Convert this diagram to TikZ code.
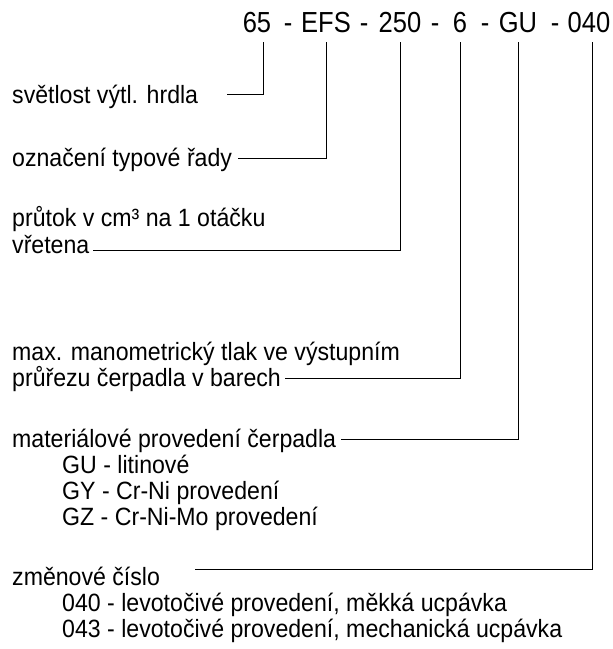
\documentclass[tikz,border=0pt]{standalone}
\usepackage{fontspec}
\setmainfont{Liberation Sans}[FakeStretch=0.925]
\newfontfamily\codefont{Liberation Sans}[FakeStretch=0.88]
\begin{document}
\begin{tikzpicture}[x=1pt,y=-1pt,
  code/.style={font=\codefont\fontsize{29}{32}\selectfont, inner sep=0pt, anchor=base},
  lab/.style={font=\fontsize{25}{28}\selectfont, inner sep=0pt, anchor=base west},
  link/.style={draw, line width=0.75pt}]
\useasboundingbox (0,0) rectangle (613,649);
% code
\node[code] (p65) at (257,32) {65};
\node[code] (d1) at (288,32) {-};
\node[code] (pEFS) at (326,32) {EFS};
\node[code] (d2) at (364,32) {-};
\node[code] (p250) at (400,32) {250};
\node[code] (d3) at (435,32) {-};
\node[code] (p6) at (460,32) {6};
\node[code] (d4) at (485,32) {-};
\node[code] (pGU) at (518,32) {GU};
\node[code] (d5) at (555,32) {-};
\node[code] (p040) at (589,32) {040};
% labels
\node[lab] (l1) at (12,103) {světlost výtl. hrdla};
\node[lab] (l2) at (12,166) {označení typové řady};
\node[lab] (l3a) at (12,226) {průtok v cm³ na 1 otáčku};
\node[lab] (l3b) at (12,253) {vřetena};
\node[lab] (l4a) at (12,360) {max. manometrický tlak ve výstupním};
\node[lab] (l4b) at (12,386) {průřezu čerpadla v barech};
\node[lab] (l5) at (12,447) {materiálové provedení čerpadla};
\node[lab] (l5a) at (62,473) {GU - litinové};
\node[lab] (l5b) at (62,499) {GY - Cr-Ni provedení};
\node[lab] (l5c) at (62,525) {GZ - Cr-Ni-Mo provedení};
\node[lab] (l6) at (12,585) {změnové číslo};
\node[lab] (l6a) at (62,611) {040 - levotočivé provedení, měkká ucpávka};
\node[lab] (l6b) at (62,637) {043 - levotočivé provedení, mechanická ucpávka};
% connector ends
\coordinate (e1) at (227,94);
\coordinate (e2) at (238,158);
\coordinate (e3) at (93,250);
\coordinate (e4) at (285,378);
\coordinate (e5) at (341,439);
\coordinate (e6) at (195,569);
\draw[link] ([yshift=-10pt]p65.base -| 263,0) |- (e1);
\draw[link] ([yshift=-10pt]pEFS.base) |- (e2);
\draw[link] ([yshift=-10pt]p250.base) |- (e3);
\draw[link] ([yshift=-10pt]p6.base) |- (e4);
\draw[link] ([yshift=-10pt]pGU.base) |- (e5);
\draw[link] ([yshift=-10pt]p040.base -| 592,0) |- (e6);
\end{tikzpicture}
\end{document}
